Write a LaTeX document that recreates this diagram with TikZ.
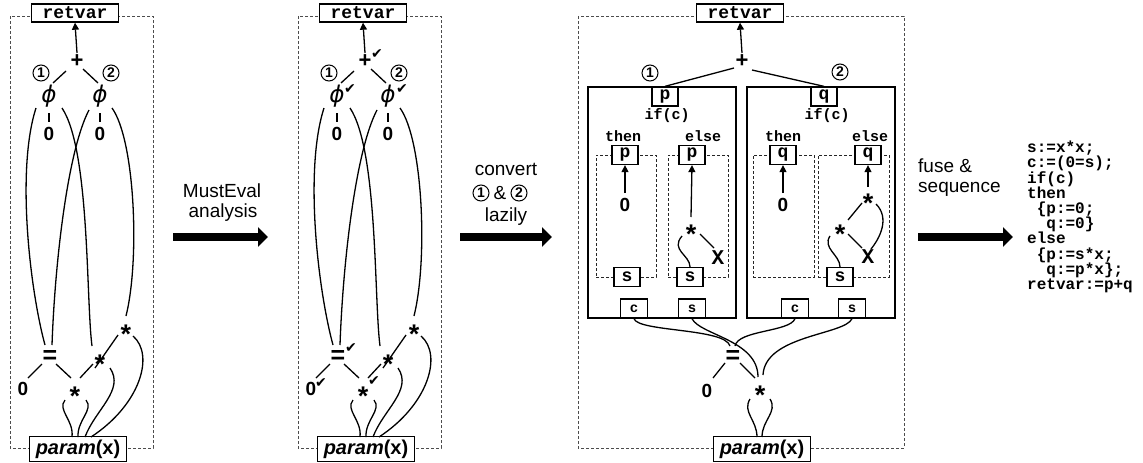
\documentclass[tikz,border=0pt]{standalone}
\usepackage{fontspec}
\setmainfont{Liberation Sans}
\newfontfamily\monof{Liberation Mono}
\newfontfamily\djv{DejaVu Sans}
\usetikzlibrary{calc,arrows.meta}
\tikzset{
  ed/.style={line width=1.3pt},
  arr/.style={line width=1.3pt,-{Triangle[length=7pt,width=7pt]}},
  bigarr/.style={line width=8pt,-{Triangle[length=10pt,width=19pt]}},
  frame/.style={draw=black!70,line width=0.9pt,dash pattern=on 3pt off 2pt},
  dframe/.style={draw=black!85,line width=0.9pt,dash pattern=on 3pt off 2pt,inner sep=0pt},
  obox/.style={draw,line width=1.4pt,inner sep=0pt},
  rbox/.style={draw,line width=1.4pt,fill=white,inner sep=0pt,minimum width=87pt,minimum height=18pt,font=\monof\bfseries\fontsize{18}{18}\selectfont},
  sbox/.style={draw,line width=1.3pt,fill=white,inner sep=0pt,minimum width=26pt,minimum height=19pt,font=\monof\bfseries\fontsize{18}{18}\selectfont},
  cbox/.style={draw,line width=1.3pt,fill=white,inner sep=0pt,minimum width=27pt,minimum height=19pt,font=\monof\bfseries\fontsize{14}{14}\selectfont},
  pbox/.style={draw,line width=1.4pt,fill=white,inner sep=0pt,minimum width=97pt,minimum height=25pt,font=\bfseries\fontsize{20}{20}\selectfont},
  mtxt/.style={inner sep=0pt,font=\monof\bfseries\fontsize{15}{15}\selectfont},
  lbl/.style={inner sep=0pt,font=\bfseries\fontsize{19}{19}\selectfont},
  pls/.style={inner sep=0pt,font=\bfseries\fontsize{22}{22}\selectfont},
  eqs/.style={inner sep=0pt,font=\bfseries\fontsize{25}{25}\selectfont},
  strs/.style={inner sep=0pt,font=\bfseries\fontsize{27}{27}\selectfont},
  phil/.style={inner sep=0pt,font=\djv\itshape\fontsize{23}{23}\selectfont},
  xs/.style={inner sep=0pt,font=\monof\bfseries\fontsize{21}{21}\selectfont},
  circ/.style={draw,circle,line width=1pt,inner sep=0pt,minimum size=16pt,font=\bfseries\fontsize{14}{14}\selectfont},
  chk/.style={inner sep=0pt,font=\djv\fontsize{14}{14}\selectfont},
  txt/.style={inner sep=0pt,font=\fontsize{19}{19}\selectfont},
}
\newcommand\stargl{\smash{\raisebox{-0.58em}{*}}}
\newcommand\treepanel[1]{%
  \draw[frame] (10,16) rectangle (153,448);
  \node[rbox] (#1ret) at (75,13) {retvar};
  \node[pls] (#1plus) at (77,61) {+};
  \node[circ] (#1c1) at (41,73) {1};
  \node[circ] (#1c2) at (111,73) {2};
  \node[phil] (#1phiA) at (49,96) {ϕ};
  \node[phil] (#1phiB) at (100,96) {ϕ};
  \node[lbl] (#1zA) at (49,134) {0};
  \node[lbl] (#1zB) at (100,134) {0};
  \node[eqs] (#1eq) at (50,357) {=};
  \node[lbl] (#1zC) at (23,389) {0};
  \node[strs] (#1mb) at (75,390) {\stargl};
  \node[strs] (#1mm) at (100,358) {\stargl};
  \node[strs] (#1mt) at (126,328) {\stargl};
  \node[pbox] (#1par) at (78,449) {\textit{param}(x)};
  \draw[arr] ($(#1plus)+(0,-8)$) -- (#1ret.south);
  \draw[ed] ($(#1plus)+(-11,10)$) -- ($(#1phiA)+(4,-13)$);
  \draw[ed] ($(#1plus)+(6,8)$) -- ($(#1phiB)+(-2,-13)$);
  \draw[ed] ($(#1phiA)+(0,17)$) -- ($(#1zA)+(0,-12)$);
  \draw[ed] ($(#1phiB)+(0,17)$) -- ($(#1zB)+(0,-12)$);
  \draw[ed] ($(#1phiA)+(-13,12)$) .. controls (16,170) and (30,290) .. ($(#1eq)+(-5,-12)$);
  \draw[ed] ($(#1phiB)+(-11,14)$) .. controls (68,150) and (55,260) .. ($(#1eq)+(2,-12)$);
  \draw[ed] ($(#1phiA)+(13,12)$) .. controls (90,150) and (86,300) .. ($(#1mm)+(-8,-12)$);
  \draw[ed] ($(#1phiB)+(12,12)$) .. controls (135,140) and (140,260) .. ($(#1mt)+(0,-12)$);
  \draw[ed] ($(#1mm)+(10,10)$) .. controls (125,390) and (95,410) .. ($(#1par)+(7,-12)$);
  \draw[ed] ($(#1mt)+(7,8)$) .. controls (155,355) and (140,405) .. ($(#1par)+(13,-12)$);
  \draw[ed] ($(#1mb)+(-10,10)$) .. controls (57,410) and (74,420) .. ($(#1par)+(-6,-12)$);
  \draw[ed] ($(#1mb)+(11,10)$) .. controls (94,410) and (77,420) .. ($(#1par)+(0,-12)$);
  \draw[ed] ($(#1eq)+(-8,7)$) -- ($(#1zC)+(5,-11)$);
  \draw[ed] ($(#1eq)+(6,7)$) -- ($(#1mb)+(-4,-12)$);
  \draw[ed] ($(#1mm)+(-7,6)$) -- ($(#1mb)+(5,-12)$);
  \draw[ed] ($(#1mt)+(-8,7)$) -- ($(#1mm)+(-5,10)$);
}
\begin{document}
\begin{tikzpicture}[x=1pt,y=-1pt]
\useasboundingbox (0,0) rectangle (1143,463);
% panel 1
\treepanel{a}
% panel 2
\begin{scope}[shift={(288,0)}]
\treepanel{b}
\node[chk] (k1) at ($(bplus)+(12,-7)$) {✔};
\node[chk] (k2) at ($(bphiA)+(13,-7)$) {✔};
\node[chk] (k3) at ($(bphiB)+(14,-7)$) {✔};
\node[chk] (k4) at ($(beq)+(13,-9)$) {✔};
\node[chk] (k5) at ($(bzC)+(10,-6)$) {✔};
\node[chk] (k6) at ($(bmb)+(11,-9)$) {✔};
\end{scope}
% panel 3
\draw[frame] (578,16) rectangle (904,448);
\node[rbox] (cret) at (740,13) {retvar};
\node[pls] (cplus) at (742,61) {+};
\node[circ] (cc1) at (650,73) {1};
\node[circ] (cc2) at (840,72) {2};
\node[obox,minimum width=148pt,minimum height=231pt] (boxL) at (662,202.5) {};
\node[obox,minimum width=148pt,minimum height=231pt] (boxR) at (821,202.5) {};
\node[dframe,minimum width=60pt,minimum height=122pt] (dtL) at (626,216) {};
\node[dframe,minimum width=60pt,minimum height=122pt] (deL) at (698,216) {};
\node[dframe,minimum width=61pt,minimum height=122pt] (dtR) at (783.5,216) {};
\node[dframe,minimum width=71pt,minimum height=122pt] (deR) at (853.5,216) {};
\node[sbox] (pL) at (665,96.5) {p};
\node[sbox] (qR) at (824,96.5) {q};
\node[mtxt] (ifL) at (667,116) {if(c)};
\node[mtxt] (ifR) at (827,116) {if(c)};
\node[mtxt] (thL) at (623,136) {then};
\node[mtxt] (elL) at (703,136) {else};
\node[mtxt] (thR) at (783,136) {then};
\node[mtxt] (elR) at (870,136) {else};
\node[sbox] (ptL) at (625,155) {p};
\node[sbox] (peL) at (692,155) {p};
\node[sbox] (qtR) at (783,155) {q};
\node[sbox] (qeR) at (868,155) {q};
\node[sbox] (stL) at (627,277) {s};
\node[sbox] (seL) at (690,277) {s};
\node[sbox] (seR) at (840,277) {s};
\node[lbl] (ztL) at (625,205) {0};
\node[lbl] (ztR) at (783,205) {0};
\node[strs] (sL) at (691,228) {\stargl};
\node[xs] (xL) at (718,258) {X};
\node[strs] (sR1) at (868,197) {\stargl};
\node[strs] (sR2) at (840,228) {\stargl};
\node[xs] (xR) at (868,257) {X};
\node[cbox] (bcL) at (634,308.5) {c};
\node[cbox] (bsL) at (692,308.5) {s};
\node[cbox] (bcR) at (795,308.5) {c};
\node[cbox] (bsR) at (852,308.5) {s};
\node[eqs] (eq3) at (733,357) {=};
\node[lbl] (z3) at (707,391) {0};
\node[strs] (st3) at (760,389) {\stargl};
\node[pbox] (par3) at (762,449) {\textit{param}(x)};
\draw[arr] ($(cplus)+(0,-8)$) -- (cret.south);
\draw[ed] ($(cplus)+(-8,7)$) -- (pL.north);
\draw[ed] ($(cplus)+(10,9)$) -- (qR.north);
\draw[arr] ($(ztL)+(0,-12)$) -- (ptL.south);
\draw[arr] ($(ztR)+(0,-12)$) -- (qtR.south);
\draw[arr] ($(sL)+(0,-11)$) -- (peL.south);
\draw[arr] ($(sR1)+(0,-10)$) -- (qeR.south);
\draw[ed] ($(sL)+(9,6)$) -- ($(xL)+(-4,-10)$);
\draw[ed] ($(sL)+(-9,8)$) .. controls (670,250) and (690,255) .. (seL.north);
\draw[ed] ($(sR1)+(-6,6)$) -- ($(sR2)+(8,-8)$);
\draw[ed] ($(sR2)+(8,6)$) -- ($(xR)+(-6,-9)$);
\draw[ed] ($(sR1)+(8,7)$) .. controls (890,218) and (880,238) .. ($(xR)+(3,-8)$);
\draw[ed] ($(sR2)+(-10,8)$) .. controls (822,248) and (840,255) .. (seR.north);
\draw[ed] (bcL.south) .. controls (638,332) and (725,328) .. ($(eq3)+(-3,-11)$);
\draw[ed] (bsL.south) .. controls (700,335) and (758,340) .. ($(st3)+(-2,-12)$);
\draw[ed] (bcR.south) .. controls (790,332) and (738,330) .. ($(eq3)+(2,-11)$);
\draw[ed] (bsR.south) .. controls (845,335) and (765,335) .. ($(st3)+(3,-14)$);
\draw[ed] ($(eq3)+(-8,6)$) -- ($(z3)+(6,-13)$);
\draw[ed] ($(eq3)+(7,6)$) -- ($(st3)+(-5,-11)$);
\draw[ed] ($(st3)+(-10,10)$) .. controls (742,412) and (757,420) .. ($(par3)+(-5,-12)$);
\draw[ed] ($(st3)+(10,10)$) .. controls (778,412) and (762,420) .. ($(par3)+(0,-12)$);
% arrows and captions
\coordinate (a1s) at (173,237); \coordinate (a1e) at (268,237);
\coordinate (a2s) at (460,237); \coordinate (a2e) at (552,237);
\coordinate (a3s) at (918,237); \coordinate (a3e) at (1013,237);
\draw[bigarr] (a1s) -- (a1e);
\draw[bigarr] (a2s) -- (a2e);
\draw[bigarr] (a3s) -- (a3e);
\node[txt] (t1) at (222,191) {MustEval};
\node[txt] (t2) at (223,213) {analysis};
\node[txt] (t3) at (506,169) {convert};
\node[circ] (cv1) at (481,193) {1};
\node[txt] (t4) at (500,193) {\&};
\node[circ] (cv2) at (519,193) {2};
\node[txt] (t5) at (506,217) {lazily};
\node[txt,anchor=west] (t6) at (918,166) {fuse \&};
\node[txt,anchor=west] (t7) at (918,189) {sequence};
\node[inner sep=0pt,anchor=north west,align=left,font=\monof\bfseries\fontsize{16}{15.2}\selectfont] (code) at (1027,141) {s:=x*x;\\c:=(0=s);\\if(c)\\then\\\phantom{x}\{p:=0;\\\phantom{xx}q:=0\}\\else\\\phantom{x}\{p:=s*x;\\\phantom{xx}q:=p*x\};\\retvar:=p+q};
\end{tikzpicture}
\end{document}
